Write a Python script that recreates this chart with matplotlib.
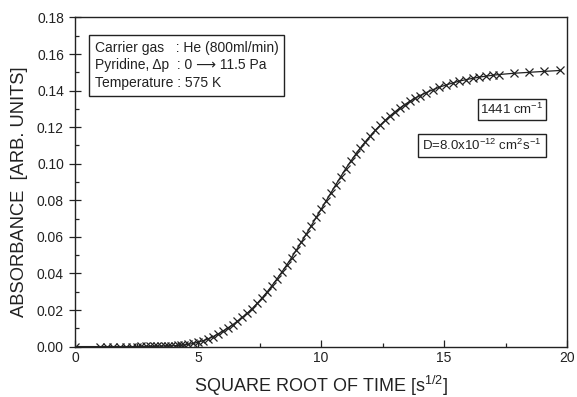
import numpy as np
import matplotlib.pyplot as plt
from matplotlib.ticker import MultipleLocator

plt.rcParams['font.family'] = ['Liberation Sans', 'DejaVu Sans']
plt.rcParams['mathtext.fontset'] = 'custom'
plt.rcParams['mathtext.rm'] = 'Liberation Sans'
plt.rcParams['mathtext.it'] = 'Liberation Sans:italic'

ink = '#222222'

# square root of time [s^1/2]
sqrt_t = [0.0, 1.0, 1.28, 1.54, 1.82, 2.08, 2.3, 2.5, 2.7, 2.88, 3.05, 3.2,
          3.35, 3.5, 3.64, 3.78, 3.92, 4.05, 4.18, 4.3, 4.42, 4.6, 4.8, 5.0,
          5.2, 5.4, 5.6, 5.8, 6.0, 6.2, 6.4, 6.6, 6.8, 7.0, 7.2, 7.4, 7.6,
          7.8, 8.0, 8.2, 8.4, 8.6, 8.8, 9.0, 9.2, 9.4, 9.6, 9.8, 10.0, 10.2,
          10.4, 10.6, 10.8, 11.0, 11.2, 11.4, 11.6, 11.8, 12.0, 12.2, 12.4,
          12.6, 12.8, 13.0, 13.2, 13.4, 13.6, 13.8, 14.0, 14.27, 14.54, 14.81,
          15.08, 15.35, 15.62, 15.89, 16.16, 16.43, 16.7, 16.97, 17.24, 17.85,
          18.45, 19.05, 19.7]

absorbance = [0.0, 0.0, 0.0, 0.0, 0.0, 0.0, 0.0, 0.0, 0.0001, 0.0001, 0.0001,
              0.0001, 0.0002, 0.0002, 0.0003, 0.0003, 0.0004, 0.0005, 0.0006,
              0.0007, 0.0009, 0.0012, 0.0017, 0.0024, 0.0032, 0.0042, 0.0054,
              0.0068, 0.0084, 0.0101, 0.0119, 0.0139, 0.016, 0.0183, 0.0208,
              0.0236, 0.0266, 0.0298, 0.0333, 0.0369, 0.0407, 0.0446, 0.0487,
              0.0529, 0.0572, 0.0616, 0.0661, 0.0706, 0.0751, 0.0796, 0.0841,
              0.0886, 0.093, 0.0973, 0.1013, 0.1051, 0.1087, 0.1121, 0.1153,
              0.1183, 0.1211, 0.1237, 0.1262, 0.1284, 0.1305, 0.1324, 0.1341,
              0.1357, 0.1372, 0.1389, 0.1405, 0.1419, 0.1431, 0.1442, 0.1452,
              0.146, 0.1467, 0.1474, 0.1479, 0.1484, 0.1488, 0.1495, 0.15,
              0.1505, 0.151]

fig, ax = plt.subplots(figsize=(5.77, 3.97), dpi=100)
fig.subplots_adjust(left=0.130, right=0.983, bottom=0.127, top=0.956)

ax.plot(sqrt_t, absorbance, '-', color=ink, lw=0.9, marker='x',
        ms=5.5, mew=0.9)

ax.set_xlim(0, 20)
ax.set_ylim(0, 0.18)
ax.xaxis.set_major_locator(MultipleLocator(5))
ax.xaxis.set_minor_locator(MultipleLocator(2.5))
ax.yaxis.set_major_locator(MultipleLocator(0.02))
ax.yaxis.set_minor_locator(MultipleLocator(0.01))
ax.yaxis.set_major_formatter(lambda v, p: f'{v:.2f}')
ax.tick_params(which='both', direction='in', top=False, right=False,
               colors=ink, labelsize=10, width=0.9)
ax.tick_params(which='major', length=5)
ax.tick_params(which='minor', length=3)
ax.tick_params(axis='y', which='major', direction='inout', length=9)
for s in ax.spines.values():
    s.set_color(ink)
    s.set_linewidth(1.0)

ax.set_xlabel('SQUARE ROOT OF TIME [s$^{1/2}$]', fontsize=13, color=ink,
              labelpad=6)
ax.set_ylabel('ABSORBANCE  [ARB. UNITS]', fontsize=13.2, color=ink)
ax.yaxis.set_label_coords(-0.096, 0.47)

ax.text(0.04, 0.93,
        'Carrier gas   : He (800ml/min)\n'
        'Pyridine, Δp  : 0 ⟶ 11.5 Pa\n'
        'Temperature : 575 K',
        transform=ax.transAxes, ha='left', va='top', fontsize=10,
        color=ink, linespacing=1.35,
        bbox=dict(boxstyle='square,pad=0.4', fc='white', ec=ink, lw=1.0))
ax.text(0.952, 0.72, '1441 cm$^{-1}$', transform=ax.transAxes,
        ha='right', va='center', fontsize=9.5, color=ink,
        bbox=dict(boxstyle='square,pad=0.2', fc='white', ec=ink, lw=1.0))
ax.text(0.948, 0.612, 'D=8.0x10$^{-12}$ cm$^{2}$s$^{-1}$',
        transform=ax.transAxes, ha='right', va='center', fontsize=9.5,
        color=ink,
        bbox=dict(boxstyle='square,pad=0.3', fc='white', ec=ink, lw=1.0))

fig.savefig('out.png', dpi=100)
